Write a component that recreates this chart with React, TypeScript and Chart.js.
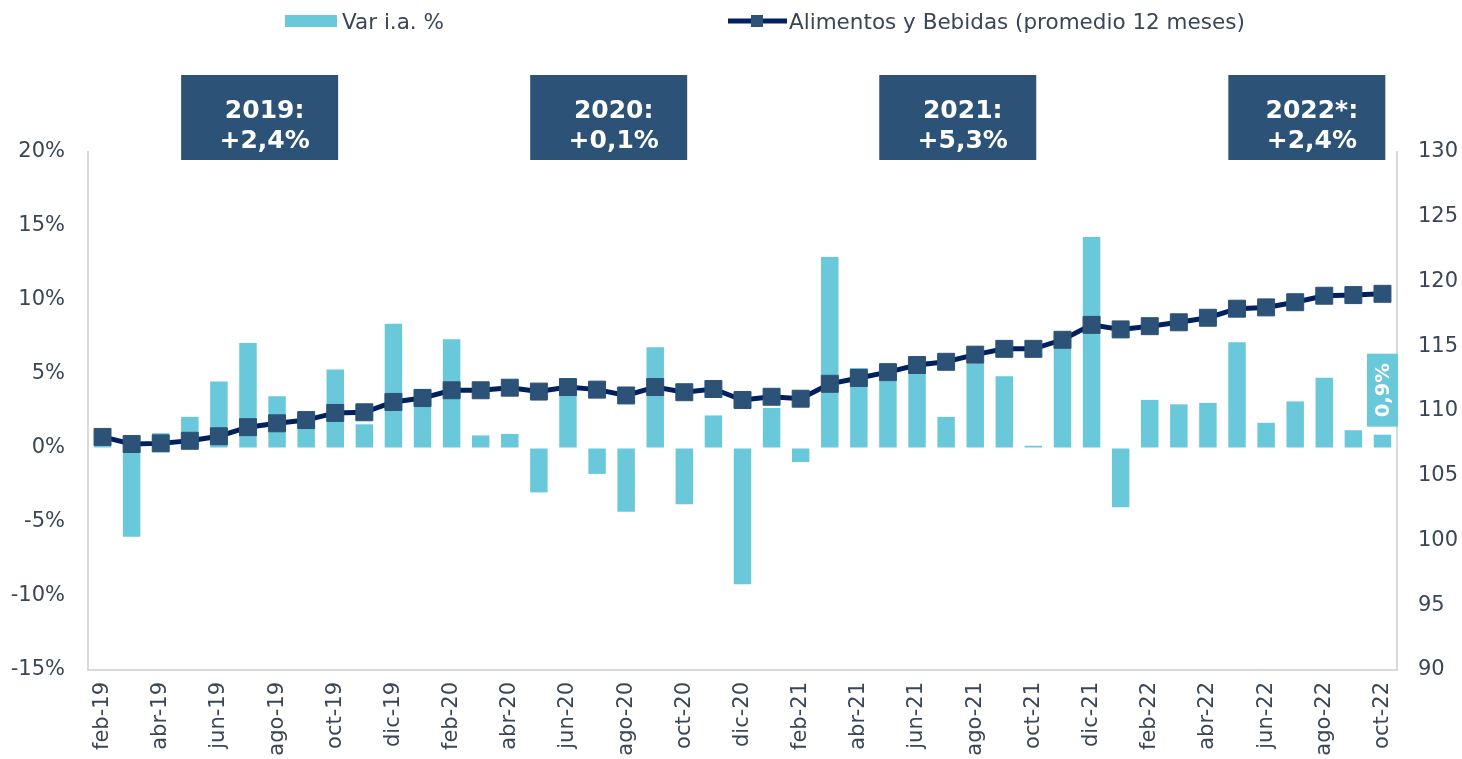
import React, { useEffect, useRef } from 'react';
import { Chart, registerables } from 'chart.js';

Chart.register(...registerables);

const labels = [
  'feb-19', 'mar-19', 'abr-19', 'may-19', 'jun-19', 'jul-19', 'ago-19', 'sep-19', 'oct-19', 'nov-19', 'dic-19',
  'ene-20', 'feb-20', 'mar-20', 'abr-20', 'may-20', 'jun-20', 'jul-20', 'ago-20', 'sep-20', 'oct-20', 'nov-20', 'dic-20',
  'ene-21', 'feb-21', 'mar-21', 'abr-21', 'may-21', 'jun-21', 'jul-21', 'ago-21', 'sep-21', 'oct-21', 'nov-21', 'dic-21',
  'ene-22', 'feb-22', 'mar-22', 'abr-22', 'may-22', 'jun-22', 'jul-22', 'ago-22', 'sep-22', 'oct-22',
];

const varIA = [
  0.3, -6.0, 1.0, 2.1, 4.5, 7.1, 3.5, 2.35, 5.3, 1.6, 8.4,
  4.0, 7.35, 0.85, 0.95, -3.0, 3.9, -1.75, -4.3, 6.8, -3.8, 2.2, -9.2,
  2.7, -0.95, 12.9, 5.4, 4.55, 5.6, 2.1, 5.7, 4.85, 0.15, 7.5, 14.25,
  -4.0, 3.25, 2.95, 3.05, 7.15, 1.7, 3.15, 4.75, 1.2, 0.9,
];

const promedio12 = [
  108.0, 107.45, 107.5, 107.7, 108.05, 108.75, 109.05, 109.3, 109.85, 109.9, 110.7,
  111.0, 111.6, 111.6, 111.8, 111.5, 111.85, 111.65, 111.2, 111.85, 111.45, 111.7, 110.85,
  111.1, 110.95, 112.1, 112.55, 113.0, 113.55, 113.8, 114.35, 114.8, 114.8, 115.5, 116.65,
  116.3, 116.55, 116.85, 117.2, 117.9, 118.0, 118.4, 118.9, 118.95, 119.05,
];

const annotationYears = ['2019:', '2020:', '2021:', '2022*:'];
const annotationValues = ['+2,4%', '+0,1%', '+5,3%', '+2,4%'];
const seriesNames = ['Var i.a. %', 'Alimentos y Bebidas (promedio 12 meses)'];
const lastValueLabel = '0,9%';

const BAR_COLOR = '#69C8DA';
const LINE_COLOR = '#002060';
const MARKER_COLOR = '#2C5377';
const BOX_COLOR = '#2C5377';
const TEXT_COLOR = '#3A4656';
const AXIS_COLOR = '#D9D9D9';
const FONT = 'DejaVu Sans';

const overlayPlugin = {
  id: 'overlay',
  afterDraw(chart: any) {
    const ctx = chart.ctx as CanvasRenderingContext2D;
    const x = chart.scales.x;
    const y = chart.scales.y;
    ctx.save();

    // Legend
    ctx.fillStyle = BAR_COLOR;
    ctx.fillRect(285, 15, 52, 12);
    ctx.fillStyle = TEXT_COLOR;
    ctx.font = `21.5px "${FONT}"`;
    ctx.textAlign = 'left';
    ctx.textBaseline = 'alphabetic';
    ctx.fillText(seriesNames[0], 342, 29);

    ctx.strokeStyle = LINE_COLOR;
    ctx.lineWidth = 5;
    ctx.beginPath();
    ctx.moveTo(728, 21);
    ctx.lineTo(787, 21);
    ctx.stroke();
    ctx.fillStyle = MARKER_COLOR;
    ctx.fillRect(751, 15, 12, 12);
    ctx.fillStyle = TEXT_COLOR;
    ctx.fillText(seriesNames[1], 789, 29);

    // Annotation boxes
    const boxW = 157;
    const boxH = 85;
    const boxTop = 75;
    annotationYears.forEach((yr, i) => {
      const cx = x.getPixelForValue(5.4 + i * 12);
      ctx.fillStyle = BOX_COLOR;
      ctx.fillRect(cx - boxW / 2, boxTop, boxW, boxH);
      ctx.fillStyle = '#FFFFFF';
      ctx.font = `bold 25px "${FONT}"`;
      ctx.textAlign = 'center';
      ctx.textBaseline = 'alphabetic';
      ctx.fillText(yr, cx + 5, 118);
      ctx.fillText(annotationValues[i], cx + 5, 148);
    });

    // Last value label
    const li = varIA.length - 1;
    const lx = x.getPixelForValue(li);
    const ly = y.getPixelForValue(varIA[li]);
    const lw = 31;
    const lh = 73;
    const lcy = ly - 8 - lh / 2;
    ctx.fillStyle = BAR_COLOR;
    ctx.fillRect(lx - lw / 2, lcy - lh / 2, lw, lh);
    ctx.translate(lx, lcy);
    ctx.rotate(-Math.PI / 2);
    ctx.fillStyle = '#FFFFFF';
    ctx.font = `bold 19.5px "${FONT}"`;
    ctx.textAlign = 'center';
    ctx.textBaseline = 'middle';
    ctx.fillText(lastValueLabel, 0, 1);
    ctx.restore();
  },
};

export default function App() {
  const canvasRef = useRef<HTMLCanvasElement | null>(null);

  useEffect(() => {
    if (!canvasRef.current) return;
    Chart.defaults.font.family = FONT;
    const chart = new Chart(canvasRef.current, {
      type: 'bar',
      data: {
        labels,
        datasets: [
          {
            type: 'line',
            label: seriesNames[1],
            data: promedio12,
            yAxisID: 'y1',
            borderColor: LINE_COLOR,
            borderWidth: 5,
            tension: 0,
            pointStyle: 'rect',
            pointRadius: 12,
            pointBackgroundColor: MARKER_COLOR,
            pointBorderColor: MARKER_COLOR,
            pointBorderWidth: 1,
            order: 0,
          } as any,
          {
            type: 'bar',
            label: seriesNames[0],
            data: varIA,
            yAxisID: 'y',
            backgroundColor: BAR_COLOR,
            borderWidth: 0,
            categoryPercentage: 1,
            barPercentage: 0.6,
            order: 1,
          },
        ],
      },
      options: {
        animation: false,
        responsive: false,
        devicePixelRatio: 1,
        layout: { padding: { top: 152, left: 0, right: 0, bottom: 0 } },
        plugins: {
          legend: { display: false },
          tooltip: { enabled: false },
        },
        scales: {
          x: {
            grid: { display: true, drawOnChartArea: false, drawTicks: false },
            border: { display: true, color: AXIS_COLOR, width: 2 },
            ticks: {
              autoSkip: false,
              maxRotation: 90,
              minRotation: 90,
              padding: 12,
              color: TEXT_COLOR,
              font: { size: 21, family: FONT },
              callback: function (this: any, _v: any, index: number) {
                return index % 2 === 0 ? labels[index] : '';
              },
            },
            afterFit: (scale: any) => {
              scale.height = 89;
            },
          },
          y: {
            position: 'left',
            min: -15,
            max: 20,
            grid: { display: true, drawOnChartArea: false, drawTicks: false },
            border: { display: true, color: AXIS_COLOR, width: 2 },
            ticks: {
              stepSize: 5,
              padding: 23,
              color: TEXT_COLOR,
              font: { size: 21, family: FONT },
              callback: (v: any) => `${v}%`,
            },
            afterFit: (scale: any) => {
              scale.width = 88;
            },
          },
          y1: {
            position: 'right',
            min: 90,
            max: 130,
            grid: { display: true, drawOnChartArea: false, drawTicks: false },
            border: { display: true, color: AXIS_COLOR, width: 2 },
            ticks: {
              stepSize: 5,
              padding: 21,
              color: TEXT_COLOR,
              font: { size: 21, family: FONT },
            },
            afterFit: (scale: any) => {
              scale.width = 65;
            },
          },
        },
      },
      plugins: [overlayPlugin],
    });
    return () => chart.destroy();
  }, []);

  return (
    <div style={{ position: 'absolute', left: 0, top: 0, width: 1462, height: 759, background: '#FFFFFF' }}>
      <canvas ref={canvasRef} width={1462} height={759} style={{ width: 1462, height: 759, display: 'block' }} />
    </div>
  );
}
